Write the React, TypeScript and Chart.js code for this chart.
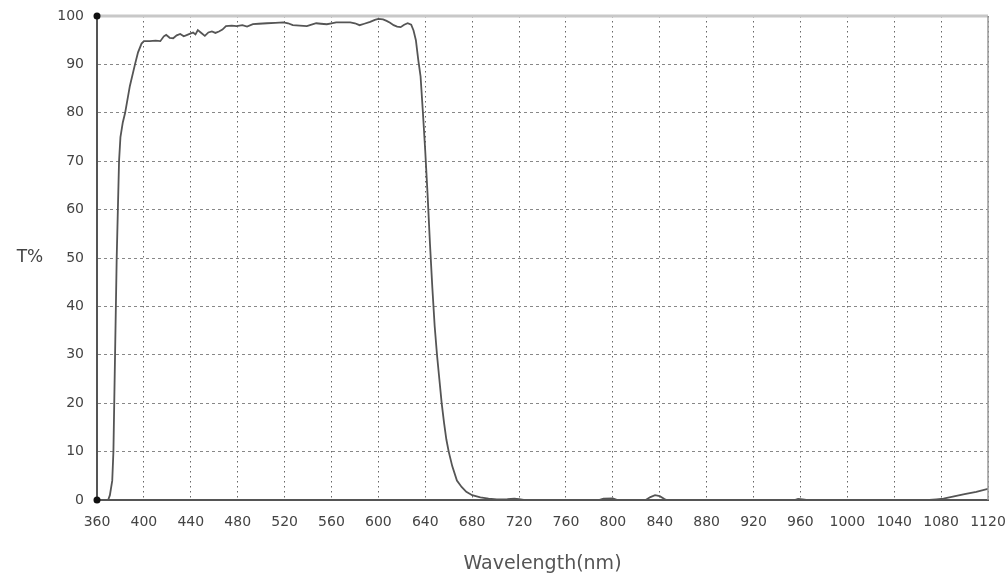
import React, { useEffect, useRef } from "react";
import { Chart, registerables } from "chart.js";

Chart.register(...registerables);

const wavelengths = [
  360, 369.5, 371, 373, 374, 375.4, 376.8, 378.8, 380, 382, 384, 388, 392.4, 395, 398, 400,
  405, 410, 414, 417, 419, 422, 425, 428, 431, 434, 437, 440, 442, 444, 446, 449, 452, 455,
  458, 461, 464, 467, 470, 475, 479, 484, 488, 493, 498, 505, 512, 519, 523, 527, 533, 539,
  543, 547, 551, 556, 560, 564, 570, 576, 580, 584, 588, 593, 597, 600, 604, 607, 610, 613,
  616, 619, 622, 625, 628, 630, 632, 634, 636, 638, 640, 642, 644, 646, 648, 650, 652, 654,
  656, 658, 660, 663, 667, 671, 675, 680, 687, 694, 701, 710, 716, 720, 724, 760, 788, 792,
  800, 804, 828, 832, 836, 840, 844, 846, 955, 958, 962, 965, 1070, 1076, 1082, 1090, 1100,
  1110, 1120,
];

const transmittance = [
  0, 0, 1, 4, 10, 30, 50, 70, 75, 78, 80, 85.5, 90, 92.5, 94.3, 94.8,
  94.8, 94.9, 94.8, 95.8, 96.1, 95.5, 95.4, 96.0, 96.3, 95.8, 96.1, 96.4, 96.6, 96.2, 97.1, 96.5, 95.9, 96.6,
  96.8, 96.5, 96.8, 97.2, 97.9, 98.0, 97.9, 98.1, 97.8, 98.3, 98.4, 98.5, 98.6, 98.7, 98.5, 98.1, 98.0, 97.9,
  98.2, 98.5, 98.4, 98.3, 98.5, 98.7, 98.7, 98.7, 98.5, 98.1, 98.4, 98.8, 99.2, 99.4, 99.3, 99.0, 98.6, 98.1,
  97.8, 97.7, 98.2, 98.5, 98.2, 97.0, 95.0, 91.0, 87.5, 80, 72, 63, 53, 44, 36, 30, 25, 20,
  16, 12.5, 10, 7, 4, 2.7, 1.7, 1.0, 0.55, 0.3, 0.1, 0.2, 0.3, 0.2, 0, 0, 0, 0.3,
  0.35, 0, 0, 0.6, 1.0, 0.8, 0.2, 0, 0, 0.2, 0.1, 0, 0, 0.15, 0.3, 0.7, 1.2,
  1.7, 2.3,
];

const xMin = 360;
const xMax = 1120;
const xStep = 40;
const yMin = 0;
const yMax = 100;
const yStep = 10;
const xTitle = "Wavelength(nm)";
const yTitle = "T%";
const cornerValues = [0, 100];

const framePlugin = {
  id: "framePlugin",
  afterDraw(chart: any) {
    const { ctx, chartArea } = chart;
    const { left, right, top, bottom } = chartArea;
    ctx.save();
    ctx.strokeStyle = "#c8c8c8";
    ctx.lineWidth = 3;
    ctx.beginPath();
    ctx.moveTo(left, top);
    ctx.lineTo(right, top);
    ctx.stroke();
    ctx.strokeStyle = "#9a9a9a";
    ctx.lineWidth = 1.5;
    ctx.beginPath();
    ctx.moveTo(right, top);
    ctx.lineTo(right, bottom);
    ctx.stroke();
    const xs = chart.scales.x;
    const ys = chart.scales.y;
    ctx.fillStyle = "#111";
    for (const v of cornerValues) {
      ctx.beginPath();
      ctx.arc(xs.getPixelForValue(xMin), ys.getPixelForValue(v), 3.5, 0, Math.PI * 2);
      ctx.fill();
    }
    ctx.fillStyle = "#444";
    ctx.font = "17px 'DejaVu Sans'";
    ctx.textAlign = "center";
    ctx.textBaseline = "middle";
    ctx.fillText(yTitle, 30, 258);
    ctx.restore();
  },
};

export default function App() {
  const ref = useRef<HTMLCanvasElement>(null);

  useEffect(() => {
    document.body.style.margin = "0";
    const points = wavelengths.map((w, i) => ({ x: w, y: transmittance[i] }));
    const chart = new Chart(ref.current as HTMLCanvasElement, {
      type: "line",
      data: {
        datasets: [
          {
            data: points,
            borderColor: "#555",
            borderWidth: 1.8,
            pointRadius: 0,
            tension: 0,
            fill: false,
          },
        ],
      },
      options: {
        animation: false,
        responsive: false,
        layout: { padding: { left: 0, right: 18, top: 16, bottom: 0 } },
        plugins: { legend: { display: false }, tooltip: { enabled: false } },
        scales: {
          x: {
            type: "linear",
            min: xMin,
            max: xMax,
            afterFit: (s: any) => {
              s.height = 78;
              s.paddingLeft = 0;
              s.paddingRight = 0;
            },
            ticks: {
              stepSize: xStep,
              color: "#444",
              font: { family: "'DejaVu Sans'", size: 14 },
              padding: 14,
              maxRotation: 0,
              autoSkip: false,
              callback: (v: any) => String(v),
            },
            grid: { color: "#666", lineWidth: 1, drawTicks: false },
            border: { display: true, color: "#555", width: 2, dash: [1.5, 3.5] },
            title: {
              display: true,
              text: xTitle,
              color: "#555",
              font: { family: "'DejaVu Sans'", size: 19 },
              padding: { top: 0, bottom: 3 },
            },
          },
          y: {
            type: "linear",
            min: yMin,
            max: yMax,
            afterFit: (s: any) => {
              s.width = 97;
              s.paddingTop = 0;
              s.paddingBottom = 0;
            },
            ticks: {
              stepSize: yStep,
              color: "#444",
              font: { family: "'DejaVu Sans'", size: 14 },
              padding: 13,
              callback: (v: any) => String(v),
            },
            grid: { color: "#888", lineWidth: 1, drawTicks: false },
            border: { display: true, color: "#555", width: 2, dash: [3, 3] },
          },
        },
      },
      plugins: [framePlugin],
    });
    return () => chart.destroy();
  }, []);

  return (
    <div style={{ position: "absolute", left: 0, top: 0, width: 1006, height: 578 }}>
      <canvas ref={ref} width={1006} height={578} />
    </div>
  );
}
